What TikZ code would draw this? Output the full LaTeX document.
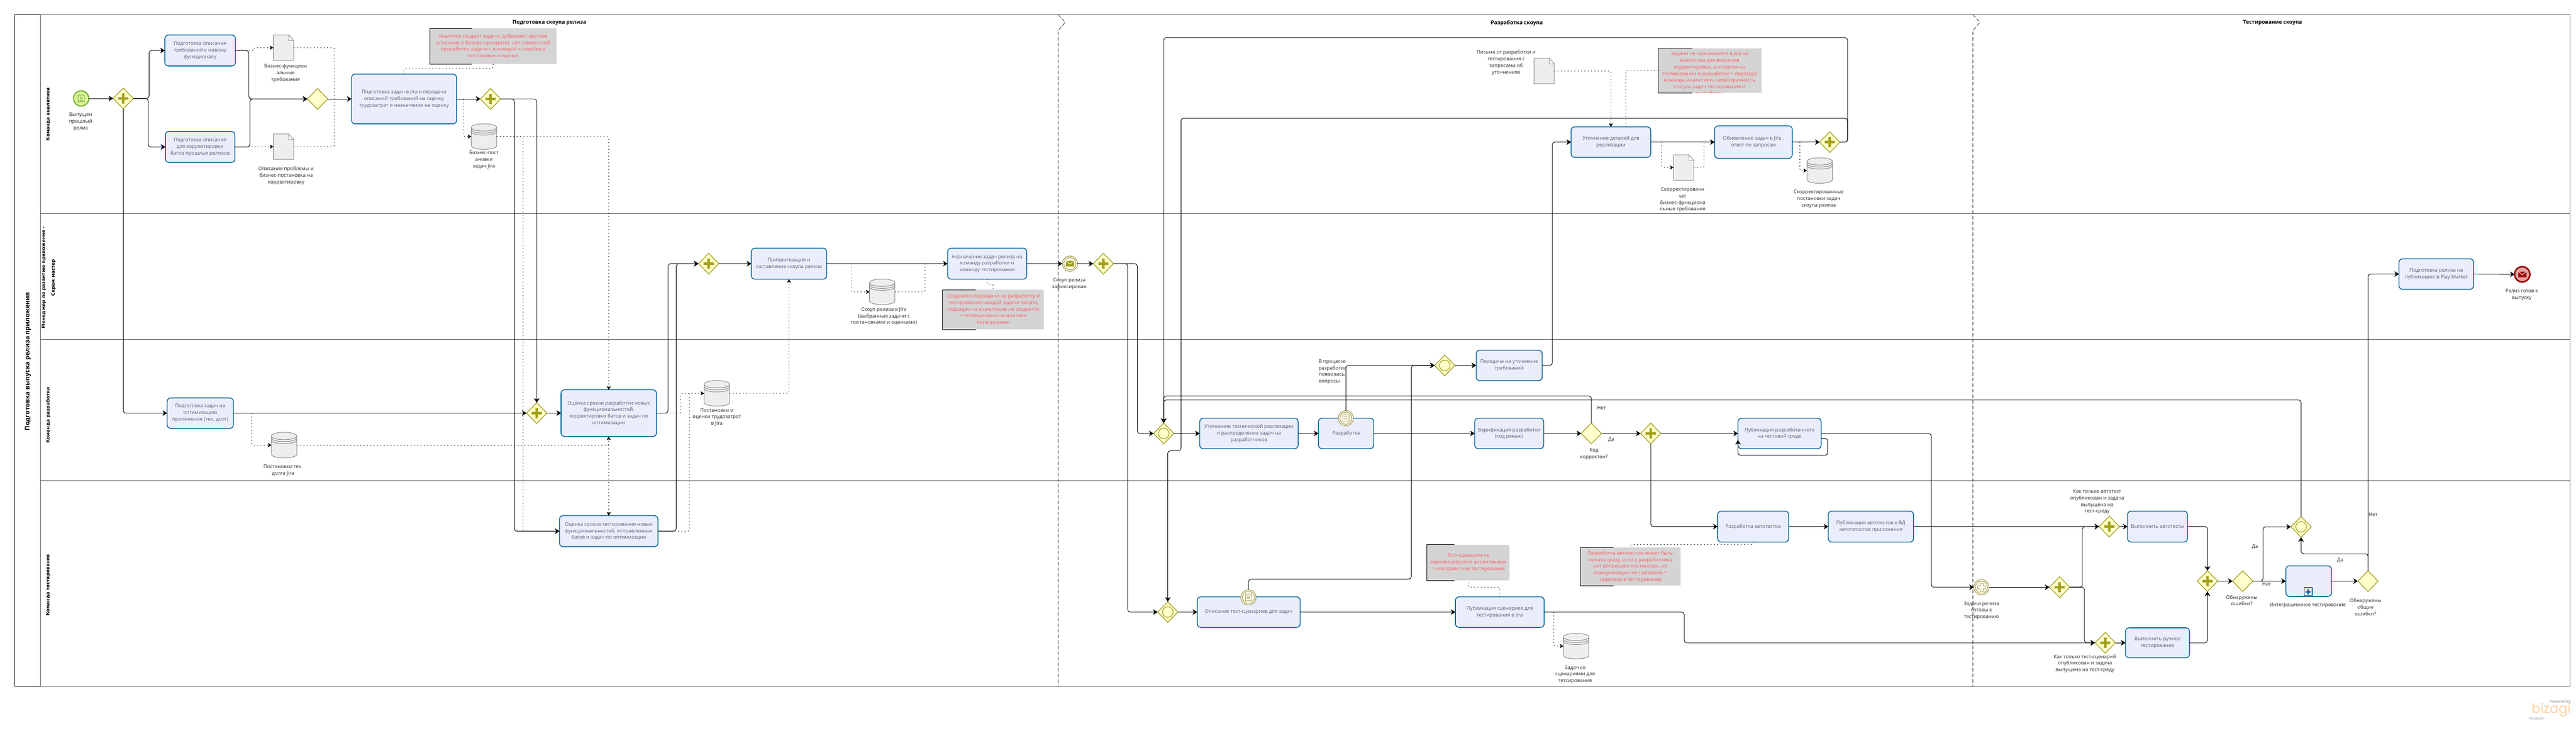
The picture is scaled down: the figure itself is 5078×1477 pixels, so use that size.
\documentclass[tikz,border=0pt]{standalone}
\usepackage{fontspec}
\setmainfont{Open Sans}
\newfontfamily\lanefont{DejaVu Sans}
\newfontfamily\logofont{Poppins}
\usetikzlibrary{arrows.meta,shapes.geometric,calc}
\definecolor{taskfill}{HTML}{EAEEFC}
\definecolor{taskline}{HTML}{00659A}
\definecolor{tasktext}{HTML}{5C5D6E}
\definecolor{gwfill}{HTML}{FFFFCC}
\definecolor{gwline}{HTML}{A8A52E}
\definecolor{gwmark}{HTML}{A3A01A}
\definecolor{annred}{HTML}{FF5A64}
\definecolor{anngray}{HTML}{D4D4D4}
\definecolor{laneline}{HTML}{555555}
\definecolor{artfill}{HTML}{EEEEEE}
\definecolor{artline}{HTML}{858585}
\definecolor{evline}{HTML}{A89F5C}
\definecolor{startline}{HTML}{6CB32C}
\definecolor{startfill}{HTML}{DDF29A}
\definecolor{logoorange}{HTML}{FDD3A8}
\tikzset{
 task/.style={draw=taskline,fill=taskfill,line width=1.6pt,rounded corners=7pt,inner sep=0pt,outer sep=0pt,align=center,text=tasktext,font=\fontsize{9.8}{13}\selectfont},
 gate/.style={draw=gwline,fill=gwfill,line width=1.5pt,shape=diamond,minimum width=40pt,minimum height=41pt,inner sep=0pt,outer sep=0pt},
 lbl/.style={align=center,text=black!85,inner sep=0pt,font=\fontsize{9.8}{13}\selectfont},
 anntext/.style={fill=anngray,align=center,text=annred,inner sep=0pt,outer sep=0pt,font=\fontsize{9.8}{13}\selectfont},
 lanetext/.style={rotate=90,align=center,inner sep=0pt,font=\lanefont\bfseries\fontsize{9}{19}\selectfont},
 flow/.style={draw=black,line width=1pt,rounded corners=5pt,-{Stealth[length=9pt,width=11pt,inset=2.5pt]}},
 flowl/.style={draw=black,line width=1pt,rounded corners=5pt},
 assoc/.style={draw=black,line width=1pt,dash pattern=on 1.6pt off 5pt,rounded corners=3pt},
 assocto/.style={assoc,-{Stealth[length=7pt,width=8pt,inset=1.5pt]}},
 phase/.style={draw=laneline,line width=1.2pt,dash pattern=on 7pt off 4pt},
 artbox/.style={inner sep=0pt,outer sep=0pt},
 evt/.style={shape=circle,minimum size=30pt,inner sep=0pt,outer sep=0pt},
}
\newfontfamily\titlefont{Open Sans}
\newcommand\mktask[6]{%
 \pgfmathsetmacro\tkw{#4-#2}\pgfmathsetmacro\tkh{#5-#3}%
 \node[task,minimum width=\tkw pt,minimum height=\tkh pt] (#1) at ({(#2+#4)/2},{(#3+#5)/2}) {#6};}
\newcommand\plusmark[2]{\fill[gwmark] (#1-10,#2-2.5) rectangle (#1+10,#2+2.5) (#1-2.5,#2-10) rectangle (#1+2.5,#2+10);}
\newcommand\gwplain[3]{\node[gate] (#1) at (#2,#3) {};}
\newcommand\gwplus[3]{\node[gate] (#1) at (#2,#3) {};\plusmark{#2}{#3}}
\newcommand\gwincl[3]{\node[gate] (#1) at (#2,#3) {};\draw[gwline,line width=1.4pt] (#2,#3) circle[radius=10.5pt];}
\newcommand\mkdb[3]{%
 \node[artbox,minimum width=50pt,minimum height=50pt] (#1) at (#2,#3) {};
 \begin{scope}[shift={(#2,#3)}]
 \draw[artline,fill=artfill,line width=1pt] (-25,-18) -- (-25,18) .. controls (-25,27.5) and (25,27.5) .. (25,18) -- (25,-18) .. controls (25,-27.5) and (-25,-27.5) .. (-25,-18) -- cycle;
 \foreach \yy in {-18,-14,-10} {\draw[artline,line width=1pt] (-25,\yy) .. controls (-25,\yy+9.5) and (25,\yy+9.5) .. (25,\yy);}
 \end{scope}}
\newcommand\mkdoc[3]{%
 \node[artbox,minimum width=40pt,minimum height=50pt] (#1) at (#2,#3) {};
 \begin{scope}[shift={(#2,#3)}]
 \draw[artline,fill=artfill,line width=1pt] (-20,-25) -- (10,-25) -- (20,-14) -- (20,25) -- (-20,25) -- cycle;
 \draw[artline,fill=white,line width=.8pt] (10,-25) -- (10,-14) -- (20,-14) -- cycle;
 \end{scope}}
\newcommand\mkann[7]{% name x1 y1 x2 y2 xb text
 \pgfmathsetmacro\tkw{#4-#2}\pgfmathsetmacro\tkh{#5-#3}%
 \node[anntext,minimum width=\tkw pt,minimum height=\tkh pt] (#1) at ({(#2+#4)/2},{(#3+#5)/2}) {#7};
 \draw[black,line width=1pt] (#6,#3) -- (#2,#3) -- (#2,#5) -- (#6,#5);}
\newcommand\doublecirc[2]{\draw[evline,line width=1.2pt] (#1,#2) circle[radius=12pt];}
\newcommand\condicon[3]{\draw[#3,line width=.9pt] (#1-6,#2-7) rectangle (#1+6,#2+7);
 \draw[#3,line width=.9pt] (#1-3,#2-3) -- (#1+3,#2-3) (#1-3,#2) -- (#1+3,#2) (#1-3,#2+3) -- (#1+3,#2+3);}
\newcommand\envicon[3]{\fill[#3] (#1-8,#2-5.5) rectangle (#1+8,#2+5.5);
 \draw[white,line width=1pt] (#1-8,#2-5.5) -- (#1,#2+1) -- (#1+8,#2-5.5);}
\begin{document}
\begin{tikzpicture}[x=1pt,y=-1pt]
\useasboundingbox (0,0) rectangle (5078,1477);
\fill[white] (0,0) rectangle (5078,1477);
% pool, lanes, phases
\draw[laneline,line width=1.3pt] (29,29) rectangle (5066,1352);
\draw[black,line width=1.3pt] (80,29) -- (29,29) -- (29,1352) -- (80,1352);
\draw[laneline,line width=1.3pt] (80,29) -- (80,1352);
\draw[laneline,line width=1.3pt] (80,421) -- (5066,421) (80,669) -- (5066,669) (80,947) -- (5066,947);
\draw[phase] (2086,29) -- (2100,44) -- (2086,60) -- (2086,1352);
\draw[phase] (3889,29) -- (3903,44) -- (3889,60) -- (3889,1352);
\draw[phase] (5066,29) -- (5066,1352);
\node[rotate=90,inner sep=0pt,font=\titlefont\bfseries\fontsize{12.5}{16}\selectfont] (pooltitle) at (55,712) {Подготовка выпуска релиза приложения};
\node[lanetext] (lane1) at (95,225) {Команда аналитики};
\node[lanetext] (lane2) at (96,547) {Менеджер по развитию приложения -\\Скрам мастер};
\node[lanetext] (lane3) at (95,818) {Команда разработки};
\node[lanetext] (lane4) at (95,1153) {Команда тестирования};
\node[inner sep=0pt,font=\bfseries\fontsize{10.4}{13}\selectfont] (ph1) at (1083,45) {Подготовка скоупа релиза};
\node[inner sep=0pt,font=\bfseries\fontsize{10.4}{13}\selectfont] (ph2) at (2990,45) {Разработка скоупа};
\node[inner sep=0pt,font=\bfseries\fontsize{10.4}{13}\selectfont] (ph3) at (4480,45) {Тестирование скоупа};
% start
\node[evt,draw=startline,fill=startfill,line width=2.2pt] (S) at (160,194) {};
\condicon{160}{194}{startline}
\node[lbl] (lS) at (159,240) {Выпущен\\прошлый\\релиз};
% gateways
\gwplus{g1}{243}{194}
\gwplain{g2}{626}{195}
\gwplus{g3}{967}{195}
\gwplus{g4}{1058}{814}
\gwplus{g5}{1397}{519.5}
\gwplus{g6}{2175}{519.5}
\gwincl{g7}{2294}{854}
\gwincl{gT}{2302}{1206}
\gwplain{g8}{3137}{854}
\gwplus{g9}{3607}{280}
\gwincl{g10}{2848}{720}
\gwplus{g11}{3254}{854}
\gwplus{g12}{4158}{1037.5}
\gwplus{g13}{4060}{1157}
\gwplus{g14}{4150}{1266.5}
\gwplus{g15}{4351.5}{1145}
\gwplain{g16}{4421}{1145}
\gwincl{gI}{4536}{1038}
\gwplain{g18}{4668}{1145}
% tasks
\mktask{T1}{325}{69}{464}{130}{Подготовка описания\\требований к новому\\функционалу}
\mktask{T2}{326}{259}{463}{320}{Подготовка описания\\для корректировки\\багов прошлых релизов}
\mktask{T3}{693}{146}{900}{244}{Подготовка задач в Jira и передача\\описаний требований на оценку\\трудозатрат и назначение на оценку}
\mktask{TD}{329.5}{784}{460}{844}{Подготовка задач на\\оптимизацию\\приложения (тех. долг)}
\mktask{T4}{1106}{768}{1294}{860}{Оценка сроков разработки новых\\функциональностей,\\корректировки багов и задач по\\оптимизации}
\mktask{T5}{1103}{1016}{1297}{1077}{Оценка сроков тестирования новых\\функциональностей, исправленных\\багов и задач по оптимизации}
\mktask{T6}{1481}{489}{1629.5}{550}{Приоритезация и\\составление скоупа релиза}
\mktask{T7}{1868}{489}{2024}{550}{Назначение задач релиза на\\команду разработки и\\команду тестирования}
\mktask{T8}{3097}{250}{3254}{310}{Уточнение деталей для\\реализации}
\mktask{T9}{3380}{248}{3533}{312}{Обновление задач в Jira ,\\ответ по запросам}
\mktask{T10}{2910}{690}{3040}{750}{Передача на уточнение\\требований}
\mktask{T11}{2365}{824}{2559}{884}{Уточнение технической реализации\\и распределение задач на\\разработчиков}
\mktask{T12}{2599}{824}{2708}{884}{Разработка}
\mktask{T13}{2907}{824}{3043}{884}{Верификация разработки\\(код ревью)}
\mktask{T14}{3426}{824}{3590}{884}{Публикация разработанного\\на тестовой среде}
\mktask{T15}{3386}{1007}{3526}{1068}{Разработка автотестов}
\mktask{T16}{3604}{1007}{3772}{1068}{Публикация автотестов в БД\\автотетостов приложения}
\mktask{T22}{2360}{1176}{2563}{1236}{Описание тест-сценариев для задач}
\mktask{T17}{2869}{1176}{3044}{1236}{Публикация сценариев для\\тестирования в Jira}
\mktask{T18}{4194}{1007}{4312}{1068}{Выполнить автотесты}
\mktask{T19}{4190}{1237}{4316}{1296}{Выполнить ручное\\тестирование}
\mktask{T20}{4506}{1115}{4596}{1175}{}
\mktask{T21}{4729}{510}{4876}{570}{Подготовка релиза на\\публикацию в Play Market}
\draw[taskline,fill=taskfill,line width=1.6pt] (4542,1158) rectangle (4558,1174);
\fill[taskline] (4545,1164.5) rectangle (4555,1167.5) (4548.5,1161) rectangle (4551.5,1171);
% data objects and stores
\mkdoc{D1}{559}{94}
\mkdoc{D2}{559}{289}
\mkdoc{D3}{3044}{140}
\mkdoc{D4}{3319}{330}
\mkdb{DB1}{954}{269}
\mkdb{DB2}{560}{877}
\mkdb{DB3}{1413}{775}
\mkdb{DB4}{1739}{575}
\mkdb{DB5}{3587}{336}
\mkdb{DB6}{3107}{1273}
% annotations
\mkann{A1}{847}{56}{1097}{126}{930}{Аналитик создает задачи, добавляет краткое\\описание и бизнес-приоритет, нет совместной\\проработки задачи с командой = ошибки в\\постановке и оценке}
\mkann{A2}{1858}{571}{2058}{649}{1924}{Создаются подзадачи на разработку и\\тестирование каждой задачи скоупа,\\подзадач на аналитиков не создается\\= потенциально аналитики\\перегружены}
\mkann{A3}{3269}{95}{3472}{183}{3336}{}
\begin{scope}
\clip (3269,95) rectangle (3472,183);
\node[lbl,text=annred] (A3t) at (3370,146) {Задачи не назначаются в Jira на\\аналитика для внесения\\корректировок, а остается на\\тестировании и разработке = перегруз\\команды аналитики, непрозрачность\\статуса задач тестирования и\\разработки};
\end{scope}
\mkann{A4}{2813}{1073}{2976}{1144}{2867}{Тест-сценарии не\\верифицируются аналитиками\\= некорректное тестирование}
\mkann{A5}{3115}{1079}{3313}{1154}{3181}{Разработка автотестов может быть\\начата сразу, если у разработчика\\нет вопросов к постановке, но\\коммуникации не налажено =\\задержка в тестировании}
% intermediate and end events
\node[evt,draw=evline,fill=yellow!6,line width=1.3pt] (E2) at (2109,519.5) {};
\doublecirc{2109}{519.5}\envicon{2109}{519.5}{gwmark}
\node[evt,draw=evline,fill=yellow!6,line width=1.3pt] (ev1) at (2653,824) {};
\doublecirc{2653}{824}\condicon{2653}{824}{evline}
\node[evt,draw=evline,fill=yellow!6,line width=1.3pt] (ev2) at (2461,1177) {};
\doublecirc{2461}{1177}\condicon{2461}{1177}{evline}
\node[evt,draw=evline,fill=yellow!6,line width=1.3pt] (E3) at (3906,1157) {};
\doublecirc{3906}{1157}
\draw[evline,line width=1pt] (3903,1149) -- (3909,1149) -- (3909,1154) -- (3914,1154) -- (3914,1160) -- (3909,1160) -- (3909,1165) -- (3903,1165) -- (3903,1160) -- (3898,1160) -- (3898,1154) -- (3903,1154) -- cycle;
\node[evt,draw=red!62!black,fill=red!62!black!35,line width=3pt] (End) at (4972,540.5) {};
\envicon{4972}{540.5}{red!62!black}
% labels
\node[lbl] (l1) at (563,144) {Бизнес-функцион\\альные\\требования};
\node[lbl] (l2) at (564,346) {Описание проблемы и\\бизнес-постановка на\\корректировку};
\node[lbl] (l3) at (954,315) {Бизнес-пост\\ановки\\задач Jira};
\node[lbl] (l4) at (558,926.5) {Постановки тех.\\долга Jira};
\node[lbl] (l5) at (1413,822) {Постановки и\\оценки трудозатрат\\в Jira};
\node[lbl] (l6) at (1742.5,623) {Скоуп релиза в Jira\\(выбранные задачи с\\постановками и оценками)};
\node[lbl] (l7) at (2108,559.5) {Скоуп релиза\\зафиксирован};
\node[lbl] (l8) at (2969,123.5) {Письма от разработки и\\тестирования с\\запросами об\\уточнениях};
\node[lbl] (l9) at (3317,393.5) {Скорректированн\\ые\\бизнес-функциона\\льные требования};
\node[lbl] (l10) at (3585,392) {Скорректированные\\постановки задач\\скоупа реилза};
\node[lbl,align=left] (l11) at (2627,732.5) {В процессе\\разработки\\появились\\вопросы};
\node[lbl] (l12) at (3142,894.5) {Код\\корректен?};
\node[lbl] (l13) at (3157,803) {Нет};
\node[lbl] (l14) at (3176,866) {Да};
\node[lbl] (l15) at (3105,1329) {Задач со\\сценариями для\\тетсирования};
\node[lbl] (l16) at (3906,1203) {Задачи релиза\\готовы к\\тестированию};
\node[lbl] (l17) at (4134,988.5) {Как только автотест\\опубликован и задача\\выпущена на\\тест-среду};
\node[lbl] (l18) at (4110,1307.5) {Как только тест-сценарий\\опубликован и задача\\выпущена на тест-среду};
\node[lbl] (l19) at (4419,1183) {Обнаружены\\ошибки?};
\node[lbl] (l20) at (4549,1193) {Интеграционное тестирование};
\node[lbl] (l21) at (4663,1196) {Обнаружены\\общие\\ошибки?};
\node[lbl] (l22) at (4468,1151) {Нет};
\node[lbl] (l23) at (4445,1078) {Да};
\node[lbl] (l24) at (4613,1104) {Да};
\node[lbl] (l25) at (4678,1014) {Нет};
\node[lbl] (l26) at (4971,580.5) {Релиз готов к\\выпуску};
% logo
\node[anchor=east,inner sep=0pt,text=gray!60,font=\logofont\bfseries\fontsize{7}{8}\selectfont] (lg1) at (5068,1383) {Powered by};
\node[anchor=east,inner sep=0pt,text=logoorange,font=\logofont\fontsize{26}{26}\selectfont] (lg2) at (5068,1399) {bizagi};
\node[anchor=west,inner sep=0pt,text=gray!60,font=\logofont\fontsize{7.5}{8}\selectfont] (lg3) at (4985,1416) {Modeler};
% sequence flows
\draw[flow] (S.east) -- (g1.west);
\draw[flow] (g1.east) -- (294,194) |- (T1.west);
\draw[flow] (g1.east) -- (292,194) |- (T2.west);
\draw[flow] (g1.south) |- (TD.west);
\draw[flow] (T1.east) -| (490.5,195) -- (g2.west);
\draw[flow] (T2.east) -| (492.7,195) -- (g2.west);
\draw[flow] (g2.east) -- (T3.west);
\draw[flow] (T3.east) -- (g3.west);
\draw[flow] (g3.east) -| (1014,1046.5) -- (T5.west);
\draw[flow] (g3.east) -| (g4.north);
\draw[flow] (TD.east) -- (g4.west);
\draw[flow] (g4.east) -- (T4.west);
\draw[flow] (T4.east) -| (1317,519.5) -- (g5.west);
\draw[flow] (T5.east) -| (1333,519.5) -- (g5.west);
\draw[flow] (g5.east) -- (T6.west);
\draw[flow] (T6.east) -- (T7.west);
\draw[flow] (T7.east) -- (E2.west);
\draw[flow] (E2.east) -- (g6.west);
\draw[flow] (g6.east) -| (2242,854) -- (g7.west);
\draw[flow] (g6.east) -| (2223,1206) -- (gT.west);
\draw[flow] (g7.east) -- (T11.west);
\draw[flow] (T11.east) -- (T12.west);
\draw[flow] (T12.east) -- (T13.west);
\draw[flow] (T13.east) -- (g8.west);
\draw[flow] (g8.east) -- (g11.west);
\draw[flow] (g11.east) -- (T14.west);
\draw[flow] (g8.north) -- (3137,780) -| (g7.north);
\draw[flow] (gI.north) -- (4536,788) -| (g7.north);
\draw[flow] (g9.east) -- (3642,280) -- (3642,74) -| (g7.north);
\draw[flow] (g9.east) -- (3642,280) -- (3642,233) -- (2328,233) -- (2328,888) -| (gT.north);
\draw[flow] (ev1.north) |- (g10.west);
\draw[flow] (ev2.north) -- (2461,1141) -| (2782,720) -- (g10.west);
\draw[flow] (g10.east) -- (T10.west);
\draw[flow] (T10.east) -| (3060,280) -- (T8.west);
\draw[flow] (T8.east) -- (T9.west);
\draw[flow] (T9.east) -- (g9.west);
\draw[flow] (T14.east) -| (3807,1157) -- (E3.west);
\draw[flow] ([yshift=-10pt]T14.east) -- (3603,864) -- (3603,897) -| ([yshift=-13pt]T14.west);
\draw[flow] (g11.south) |- (T15.west);
\draw[flow] (T15.east) -- (T16.west);
\draw[flow] (T16.east) -- (g12.west);
\draw[flow] (E3.east) -- (g13.west);
\draw[flow] (g13.east) -| (4105,1037.5) -- (g12.west);
\draw[flow] (g13.east) -| (4109,1266.5) -- (g14.west);
\draw[flow] (gT.east) -- (T22.west);
\draw[flow] (T22.east) -- (T17.west);
\draw[flow] (T17.east) -| (3320,1266.5) -- (g14.west);
\draw[flow] (g12.east) -- (T18.west);
\draw[flow] (g14.east) -- (T19.west);
\draw[flow] (T18.east) -| (g15.north);
\draw[flow] (T19.east) -| (g15.south);
\draw[flow] (g15.east) -- (g16.west);
\draw[flow] (g16.east) -- (T20.west);
\draw[flow] (T20.east) -- (g18.west);
\draw[flow] (g16.east) -- (4461,1145) |- (gI.west);
\draw[flow] (g18.north) |- (T21.west);
\draw[flow] (g18.north) -- (4668,1091) -| (gI.south);
\draw[flow] (T21.east) -- (End.west);
% associations
\coordinate (j1) at (500,99.5);
\coordinate (j2) at (659,195);
\coordinate (j3) at (914,195);
\coordinate (j4) at (1031,1046.5);
\coordinate (j5) at (496,814);
\coordinate (j6) at (1342,814);
\coordinate (j7) at (1359,775);
\coordinate (j8) at (1678,519.5);
\coordinate (j9) at (1823.5,519.5);
\coordinate (j10) at (3276,280);
\coordinate (j11) at (3359,280);
\coordinate (j12) at (3548,280);
\coordinate (j13) at (3063,1206);
\draw[assocto] (T1.east) -- (j1) |- (D1.west);
\draw[assocto] (T2.east) -- (D2.west);
\draw[assoc] (D1.east) -| (j2);
\draw[assoc] (D2.east) -| (j2);
\draw[assocto] (T3.east) -- (j3) |- (DB1.west);
\draw[assocto] (DB1.east) -| (T4.north);
\draw[assoc] (DB1.east) -| (j4);
\draw[assoc] (T3.north) -- (796,135) -| (A1.south);
\draw[assocto] (j5) |- (DB2.west);
\draw[assocto] (DB2.east) -| (T4.south);
\draw[assocto] (DB2.east) -| (T5.north);
\draw[assocto] (T4.east) -- (j6) |- (DB3.west);
\draw[assoc] (T5.east) -| (j7);
\draw[assocto] (DB3.east) -| (T6.south);
\draw[assocto] (j8) |- (DB4.west);
\draw[assoc] (DB4.east) -| (j9);
\draw[assoc] (T7.south) -- (1946,560) -| (A2.north);
\draw[assocto] (D3.east) -| (T8.north);
\draw[assoc] ([xshift=29.5pt]T8.north) |- (A3.west);
\draw[assocto] (j10) |- (D4.west);
\draw[assoc] (D4.east) -| (j11);
\draw[assocto] (j12) |- (DB5.west);
\draw[assoc] (T17.north) -- (2956,1157) -| (A4.south);
\draw[assoc] (T15.south) -- (3456,1073) -| (A5.north);
\draw[assocto] (j13) |- (DB6.west);
\end{tikzpicture}
\end{document}
